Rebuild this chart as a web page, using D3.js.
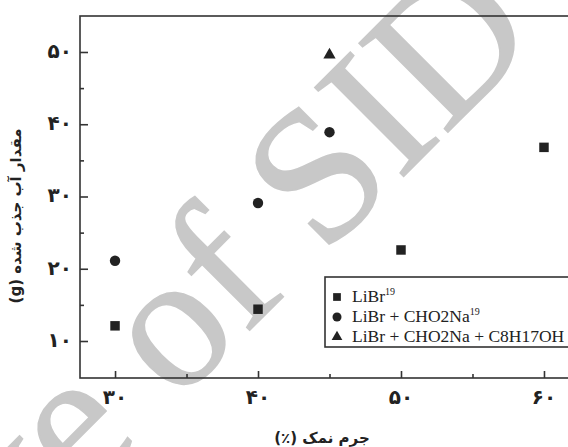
<!DOCTYPE html>
<html><head><meta charset="utf-8">
<script src="https://cdn.jsdelivr.net/npm/d3@7"></script>
<style>body{margin:0;background:#fff}svg{display:block}</style>
</head><body>
<svg id="c" width="568" height="447"></svg>
<script>
const xTicks = [30, 40, 50, 60];
const xMinor = [35, 45, 55];
const yTicks = [10, 20, 30, 40, 50];
const yMinor = [15, 25, 35, 45];
const persian = ["۰","۱","۲","۳","۴","۵","۶","۷","۸","۹"];
const seriesNames = ["LiBr", "LiBr + CHO2Na", "LiBr + CHO2Na + C8H17OH"];
const seriesSup = ["19", "19", ""];
const libr_x = [30, 40, 50, 60];
const libr_y = [12.1, 14.4, 22.6, 36.8];
const formate_x = [30, 40, 45];
const formate_y = [21.1, 29.1, 38.9];
const octanol_x = [45];
const octanol_y = [49.6];
const xTitle = "جرم نمک (٪)";
const yTitle = "مقدار آب جذب شده (g)";
const watermark = "Archive of SID";

const svg = d3.select("#c");
const x = d3.scaleLinear().domain([27.55, 61.68]).range([80, 568]);
const y = d3.scaleLinear().domain([4.88, 54.98]).range([378, 16]);
const fa = n => String(n).replace(/\d/g, d => persian[+d]);
const ink = "#222";

// watermark
svg.append("text")
  .attr("transform", "translate(-295,875) rotate(-45)")
  .attr("text-anchor", "start")
  .attr("font-family", "Liberation Serif, Times New Roman, serif")
  .attr("font-size", 192)
  .attr("fill", "#c8c8c8")
  .attr("stroke", "#c8c8c8").attr("stroke-width", 1.5)
  .text(watermark);

// frame
svg.append("rect").attr("x", 80).attr("y", 16).attr("width", 540).attr("height", 362)
  .attr("fill", "none").attr("stroke", "#333").attr("stroke-width", 1.6);

// x axis ticks (inward)
const xAxis = d3.axisTop(x).tickValues(xTicks).tickSize(7).tickFormat("");
const gx = svg.append("g").attr("transform", "translate(0,378)").call(xAxis);
gx.select(".domain").remove();
gx.selectAll("line").attr("stroke", "#333").attr("stroke-width", 1.6);
const xAxisMinor = d3.axisTop(x).tickValues(xMinor).tickSize(4).tickFormat("");
const gxm = svg.append("g").attr("transform", "translate(0,378)").call(xAxisMinor);
gxm.select(".domain").remove();
gxm.selectAll("line").attr("stroke", "#333").attr("stroke-width", 1.6);
svg.append("g").selectAll("text").data(xTicks).join("text")
  .attr("x", d => x(d)).attr("y", 404).attr("text-anchor", "middle")
  .attr("font-family", "DejaVu Sans").attr("font-weight", "bold").attr("font-size", 20)
  .attr("fill", ink).text(fa);

// y axis ticks (inward)
const yAxis = d3.axisRight(y).tickValues(yTicks).tickSize(8).tickFormat("");
const gy = svg.append("g").attr("transform", "translate(80,0)").call(yAxis);
gy.select(".domain").remove();
gy.selectAll("line").attr("stroke", "#333").attr("stroke-width", 1.6);
const yAxisMinor = d3.axisRight(y).tickValues(yMinor).tickSize(4).tickFormat("");
const gym = svg.append("g").attr("transform", "translate(80,0)").call(yAxisMinor);
gym.select(".domain").remove();
gym.selectAll("line").attr("stroke", "#333").attr("stroke-width", 1.6);
svg.append("g").selectAll("text").data(yTicks).join("text")
  .attr("x", 72).attr("y", d => y(d)).attr("dy", "0.3em").attr("text-anchor", "end")
  .attr("font-family", "DejaVu Sans").attr("font-weight", "bold").attr("font-size", 20)
  .attr("fill", ink).text(fa);

// titles
svg.append("text").attr("x", 322).attr("y", 443).attr("text-anchor", "middle")
  .attr("direction", "rtl")
  .attr("font-family", "DejaVu Sans").attr("font-weight", "bold").attr("font-size", 15)
  .attr("fill", ink).text(xTitle);
svg.append("text").attr("transform", "translate(21,216) rotate(-90)").attr("text-anchor", "middle")
  .attr("direction", "rtl")
  .attr("font-family", "DejaVu Sans").attr("font-weight", "bold").attr("font-size", 15)
  .attr("fill", ink).text(yTitle);

// data
const sq = d3.symbol().type(d3.symbolSquare).size(90);
const ci = d3.symbol().type(d3.symbolCircle).size(85);
const tr = d3.symbol().type(d3.symbolTriangle).size(65);
const pts = (xs, ys) => xs.map((v, i) => [v, ys[i]]);
svg.append("g").selectAll("path").data(pts(libr_x, libr_y)).join("path")
  .attr("d", sq).attr("transform", d => `translate(${x(d[0])},${y(d[1])})`).attr("fill", ink);
svg.append("g").selectAll("path").data(pts(formate_x, formate_y)).join("path")
  .attr("d", ci).attr("transform", d => `translate(${x(d[0])},${y(d[1])})`).attr("fill", ink);
svg.append("g").selectAll("path").data(pts(octanol_x, octanol_y)).join("path")
  .attr("d", tr).attr("transform", d => `translate(${x(d[0])},${y(d[1])})`).attr("fill", ink);

// legend
const lg = svg.append("g");
lg.append("rect").attr("x", 325).attr("y", 277).attr("width", 300).attr("height", 70)
  .attr("fill", "#fff").attr("stroke", "#333").attr("stroke-width", 1.6);
const syms = [d3.symbol().type(d3.symbolSquare).size(60), d3.symbol().type(d3.symbolCircle).size(64), d3.symbol().type(d3.symbolTriangle).size(50)];
seriesNames.forEach((name, i) => {
  const by = 302 + i * 20;
  lg.append("path").attr("d", syms[i]).attr("transform", `translate(337,${by - 5})`).attr("fill", ink);
  const t = lg.append("text").attr("x", 352).attr("y", by)
    .attr("font-family", "Liberation Serif, Times New Roman, serif").attr("font-size", 17.5).attr("fill", ink);
  t.append("tspan").text(name);
  if (seriesSup[i]) t.append("tspan").attr("dy", -7).attr("font-size", 10).text(seriesSup[i]);
});
</script>
</body></html>
